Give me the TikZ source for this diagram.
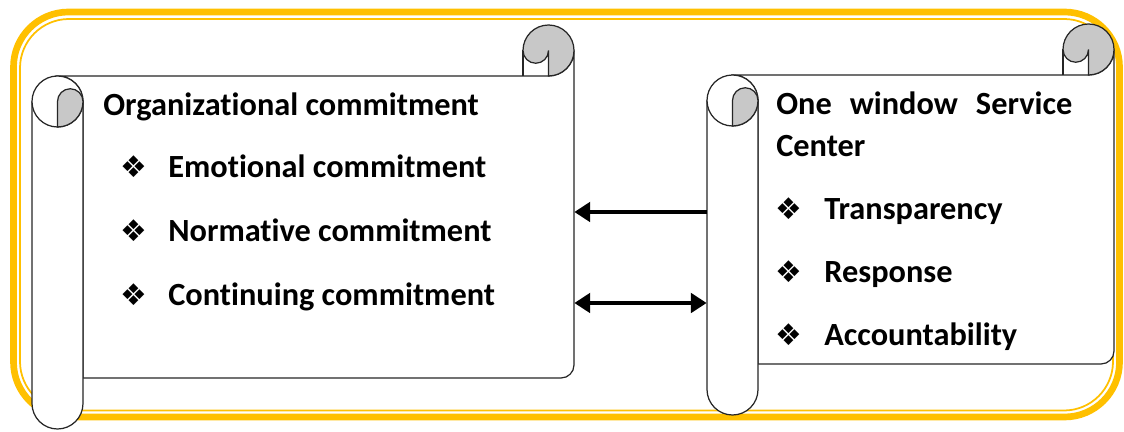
\documentclass[tikz,border=0pt]{standalone}
\usepackage{fontspec}
\setmainfont{Carlito}[Ligatures=NoCommon]
\newfontfamily\dingfont{DejaVu Sans}
\usetikzlibrary{arrows.meta,positioning,fit}
\definecolor{gold}{RGB}{255,192,0}
\definecolor{curl}{RGB}{200,200,200}
\tikzstyle{frame} = [draw=gold,line width=3.8pt,rounded corners=1.1cm]
\tikzstyle{innerframe} = [draw=gold,line width=1pt,rounded corners=0.98cm]
\tikzstyle{scrollline} = [draw=black!85,line width=0.7pt]
\tikzstyle{link} = [line width=2.6pt,>={Triangle[length=9pt,width=11pt]}]
\tikzstyle{heading} = [anchor=base west,inner sep=0,font=\fontsize{18.4}{21}\selectfont\bfseries]
\tikzstyle{item} = [anchor=base west,inner sep=0,font=\fontsize{18.4}{21}\selectfont\bfseries]
\tikzstyle{bullet} = [inner sep=0,font=\fontsize{17}{18}\selectfont\dingfont]
\def \rr {25.5}
\def \dd {51}
\def \rc {13}
% #1 left, #2 right, #3 top, #4 bottom
\newcommand{\scroll}[4]{%
  \draw[scrollline,fill=white] (#1+\rr,#3-\dd) -- (#2-\rr,#3-\dd)
    arc[start angle=270,end angle=360,radius=\rr] -- (#2,#4+\dd+\rc)
    arc[start angle=0,end angle=-90,radius=\rc] -- (#1+\dd,#4+\dd)
    -- (#1+\dd,#3-\dd-\rr) arc[start angle=0,end angle=90,radius=\rr] -- cycle;
  \draw[scrollline] (#2-\dd,#3-\rr) -- (#2-\dd,#3-\dd);
  \draw[scrollline,fill=curl] (#2-\dd,#3-\rr) arc[start angle=180,end angle=0,radius=\rr]
    arc[start angle=0,end angle=-90,radius=\rr] -- (#2-\rr,#3-\rr)
    arc[start angle=0,end angle=-180,radius=\rr/2] -- cycle;
  \draw[scrollline,fill=white] (#1,#3-\dd-\rr) -- (#1,#4+\rr)
    arc[start angle=180,end angle=360,radius=\rr] -- (#1+\dd,#3-\dd-\rr);
  \draw[scrollline,fill=white] (#1+\rr,#3-\dd-\rr) circle[radius=\rr];
  \draw[scrollline,fill=curl] (#1+\rr,#3-\dd-\rr) arc[start angle=180,end angle=0,radius=\rr/2]
    arc[start angle=0,end angle=-90,radius=\rr] -- cycle;
}

\begin{document}
\begin{tikzpicture}[x=0.02cm,y=0.02cm]
  \useasboundingbox (0,0) rectangle (1124,432);
  \draw[frame] (13.5,15) rectangle (1119.5,420);
  \draw[innerframe] (20,21.5) rectangle (1113,413);

  \scroll{32}{574}{407}{3}
  \scroll{707}{1114}{408}{17}
  \node[fit={(32,3) (574,407)},inner sep=0] (org) {};
  \node[fit={(707,17) (1114,408)},inner sep=0] (ows) {};

  \node[heading] (orgtitle) at (103,316.5) {Organizational commitment};
  \foreach \txt [count=\i] in {Emotional commitment,Normative commitment,Continuing commitment}
    {
      \node[bullet] (lb\i) at (134,329-64*\i) {❖};
      \node[item] (lt\i) at (168,318.5-64*\i) {\txt};
    }

  \node[heading] (owstitle) at (776,317.5) {\makebox[5.92cm][s]{One window Service}};
  \node[heading] (owscenter) at (776,275.5) {Center};
  \foreach \txt [count=\i] in {Transparency,Response,Accountability}
    {
      \node[bullet] (rb\i) at (789,286-63*\i) {❖};
      \node[item] (rt\i) at (824,275.5-63*\i) {\txt};
    }

  \coordinate (upper) at (640,220);
  \coordinate (lower) at (640,129);
  \draw[link,->] (ows.west |- upper) -- (org.east |- upper);
  \draw[link,<->] (ows.west |- lower) -- (org.east |- lower);
\end{tikzpicture}
\end{document}
